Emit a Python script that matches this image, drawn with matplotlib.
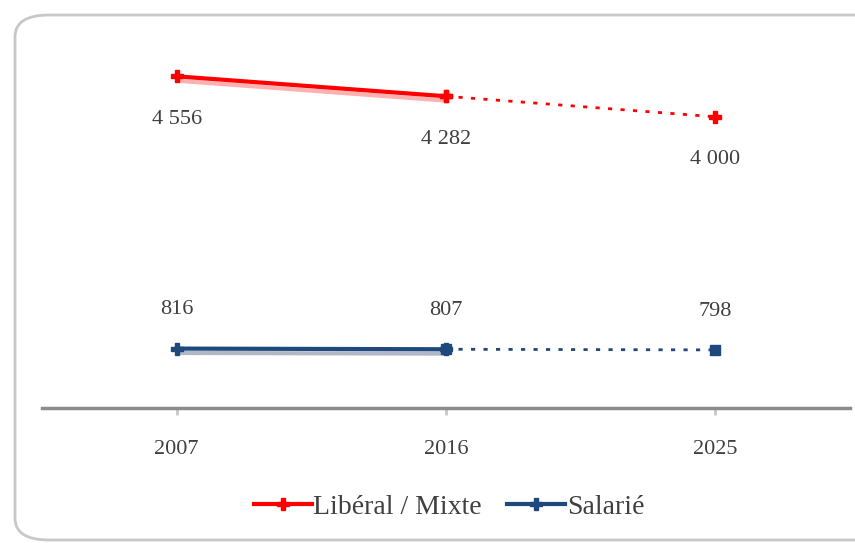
import matplotlib
matplotlib.use("Agg")
import matplotlib.pyplot as plt
from matplotlib.patches import FancyBboxPatch
from matplotlib.lines import Line2D

years = ["2007", "2016", "2025"]
liberal = [4556, 4282, 4000]
salarie = [816, 807, 798]
liberal_labels = ["4 556", "4 282", "4 000"]
salarie_labels = ["816", "807", "798"]

W, H = 855, 543
fig = plt.figure(figsize=(W / 100, H / 100), dpi=100)
fig.patch.set_facecolor("white")

FONT = "Liberation Serif"
TXT = "#404040"

# rounded chart border
border = FancyBboxPatch((15 / W, 3 / H), 900 / W, (H - 18) / H,
                        boxstyle="round,pad=0,rounding_size=0.04",
                        transform=fig.transFigure, fill=False,
                        edgecolor="#c8c8c8", linewidth=2, zorder=0)
fig.patches.append(border)

ax = fig.add_axes([42 / W, 1 - 408 / H, 808 / W, (408 - 44) / H])
ax.set_xlim(-0.5, 2.5)
ax.set_ylim(0, 5000)
ax.patch.set_alpha(0)
for s in ["top", "right", "left"]:
    ax.spines[s].set_visible(False)
ax.spines["bottom"].set_color("#8c8c8c")
ax.spines["bottom"].set_linewidth(2.5)
ax.set_yticks([])
x = list(range(len(years)))
ax.set_xticks(x)
ax.set_xticklabels(years, fontfamily=FONT, fontsize=16, color=TXT)
ax.tick_params(axis="x", length=5, width=2, color="#c8c8c8", pad=18)

red = "#ff0000"
blue = "#1f497d"

# shadow lines
ax.plot(x[:2], [v - 60 for v in liberal[:2]], color="#ffb0b0", lw=3, zorder=1, solid_capstyle="butt")
ax.plot(x[:2], [v - 60 for v in salarie[:2]], color="#b0b8c8", lw=3, zorder=1, solid_capstyle="butt")

ax.plot(x[:2], liberal[:2], color=red, lw=3, marker="P", ms=8, zorder=3)
ax.plot(x[1:], liberal[1:], color=red, lw=2, ls=(0, (1.5, 3)), marker="P", ms=8, zorder=3)
ax.plot(x[:2], salarie[:2], color=blue, lw=3, marker="P", ms=8, zorder=3)
ax.plot(x[1:], salarie[1:], color=blue, lw=2, ls=(0, (1.5, 3)), marker="s", ms=7, zorder=3)

for xi, v, lab in zip(x, liberal, liberal_labels):
    ax.annotate(lab, (xi, v), xytext=(0, -31), textcoords="offset points",
                ha="center", va="center", fontfamily=FONT,
                fontsize=16, color=TXT)
for xi, v, lab in zip(x, salarie, salarie_labels):
    ax.annotate(lab, (xi, v), xytext=(0, 28), textcoords="offset points",
                ha="center", va="center", fontfamily=FONT,
                fontsize=16, color=TXT)

handles = [Line2D([], [], color=red, lw=3, marker="P", ms=8),
           Line2D([], [], color=blue, lw=3, marker="P", ms=8)]
fig.legend(handles, ["Libéral / Mixte", "Salarié"], loc="center",
           bbox_to_anchor=(449 / W, 1 - 507 / H), ncol=2, frameon=False,
           prop={"family": FONT, "size": 20},
           labelcolor=TXT, handlelength=2.1, handletextpad=0.05, columnspacing=0.9)

fig.savefig("out.png", dpi=100)
